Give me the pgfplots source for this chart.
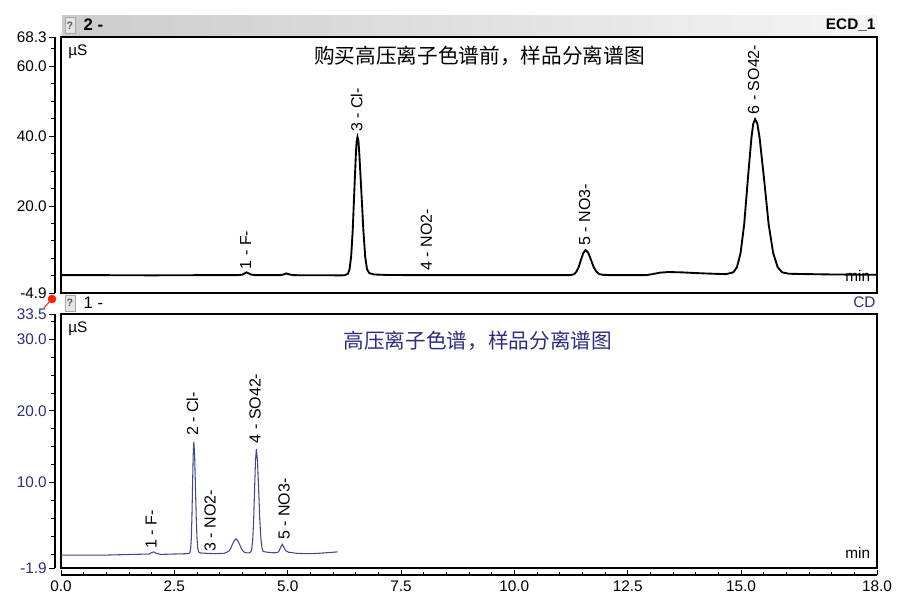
\documentclass[border=0pt]{standalone}
\usepackage{pgfplots}
\pgfplotsset{compat=1.18}
\usepackage{fontspec}
\setmainfont{Liberation Sans}
\newfontfamily\cjk{Noto Sans CJK SC}
\definecolor{navy}{RGB}{45,45,125}
\definecolor{trace2}{RGB}{70,70,140}

\pgfplotsset{
  tickaxis/.style={scale only axis, width=5pt, xmin=0, xmax=1,
    axis x line=none, axis y line*=left, tick align=outside,
    major tick length=4.5pt, minor tick length=3pt, xtick=\empty,
    tick style={black, line width=0.6pt}, axis line style={line width=0.8pt},
    yticklabel style={font=\fontsize{11.5}{13}\selectfont, inner sep=1.5pt}},
  boxaxis/.style={scale only axis, width=612pt, xmin=0, xmax=18,
    xtick=\empty, ytick=\empty, axis line style={line width=0.9pt},
    clip mode=individual}
}
\tikzset{peak/.style={rotate=90, anchor=west, font=\fontsize{12}{14}\selectfont, inner sep=1.5pt}}

\begin{document}
\begin{tikzpicture}
\useasboundingbox (0,0) rectangle (681.75pt,-455.25pt);

% headers
\begin{scope}[x=0.75pt,y=-0.75pt]
  \shade[left color=gray!40, right color=gray!8] (62,15) rectangle (877,37);
  \draw[gray!70, fill=gray!20] (65,17) rectangle (75,33);
  \node[font=\fontsize{8}{8}\selectfont\bfseries, text=gray!70!black] at (70,26) {?};
  \node[anchor=west, font=\bfseries\fontsize{12.5}{14}\selectfont] at (79,25) {2 -};
  \node[anchor=east, font=\bfseries\fontsize{11.5}{13}\selectfont, inner sep=1pt] at (877,25) {ECD\_1};
  \draw[gray!70, fill=gray!20] (65,295) rectangle (75,311);
  \node[font=\fontsize{8}{8}\selectfont\bfseries, text=gray!70!black] at (70,303) {?};
  \node[anchor=west, font=\fontsize{12.5}{14}\selectfont] at (79,303) {1 -};
  \node[anchor=east, font=\fontsize{11.5}{13}\selectfont, text=navy, inner sep=1pt] at (877,302) {CD};
  \draw[red!60!orange, line width=0.8pt] (44,308) -- (50,301);
  \fill[red!75!orange] (52,299) circle (3.2pt);
\end{scope}

% top panel ticks
\begin{axis}[tickaxis, at={(41.25pt,-219.75pt)}, anchor=south west, height=192pt,
  ymin=-4.9, ymax=68.3, ytick={-4.9,20,40,60,68.3},
  yticklabels={-4.9,20.0,40.0,60.0,68.3}, minor ytick={0,5,...,65}]
\end{axis}

% top panel data
\begin{axis}[boxaxis, at={(45.75pt,-219.75pt)}, anchor=south west, height=192pt,
  ymin=-4.9, ymax=68.3]
\addplot[black, line width=1.4pt] coordinates {
(0,0.2) (1,0.2) (2,0.15) (3,0.2) (3.9,0.2) (4.0,0.35) (4.05,0.7) (4.09,1.0)
(4.14,0.7) (4.2,0.35) (4.3,0.2) (4.85,0.2) (4.92,0.45) (4.97,0.7) (5.03,0.45)
(5.12,0.2) (6.2,0.15) (6.26,0.2) (6.33,0.6) (6.365,1.9) (6.40,5.5) (6.435,13.0)
(6.47,24.2) (6.505,35.0) (6.52,38.3) (6.54,39.7) (6.56,38.7) (6.58,35.0)
(6.625,24.2) (6.67,13.0) (6.71,5.5) (6.75,1.9) (6.80,0.8) (6.9,0.4) (7.2,0.25)
(8,0.2) (9,0.2) (10,0.2) (11.2,0.2) (11.27,0.3) (11.32,0.5) (11.37,1.2)
(11.42,2.5) (11.47,4.6) (11.52,6.5) (11.57,7.4) (11.63,6.6) (11.69,4.6)
(11.75,2.5) (11.81,1.2) (11.87,0.55) (11.95,0.3) (12.1,0.2) (12.9,0.2)
(13.05,0.5) (13.2,0.9) (13.4,1.1) (13.7,1.0) (14.0,0.8) (14.4,0.6) (14.67,0.5)
(14.83,1.0) (14.91,2.45) (14.99,6.5) (15.07,14.7) (15.15,27.5) (15.23,39.5)
(15.27,43.5) (15.31,44.8) (15.36,43.5) (15.41,39.5) (15.51,27.5) (15.61,14.7)
(15.71,6.5) (15.81,2.45) (15.91,1.0) (16.06,0.6) (16.5,0.5) (17,0.4) (18,0.3)
};
\node[anchor=north west, font=\fontsize{11.5}{13}\selectfont] at (rel axis cs:0,1) [xshift=2pt, yshift=-2pt] {µS};
\node[anchor=east, font=\fontsize{11.5}{13}\selectfont, inner sep=1pt] at (rel axis cs:1,0) [xshift=-4pt, yshift=12.5pt] {min};
\node[font=\cjk\fontsize{15.5}{18}\selectfont] at (rel axis cs:0.513,0.926) {购买高压离子色谱前，样品分离谱图};
\node[peak] at (axis cs:4.07,1.3) {1 - F-};
\node[peak] at (axis cs:6.52,40.5) {3 - Cl-};
\node[peak] at (axis cs:8.06,0.9) {4 - NO2-};
\node[peak] at (axis cs:11.55,8.0) {5 - NO3-};
\node[peak] at (axis cs:15.28,45.6) {6 - SO42-};
\end{axis}

% bottom panel ticks
\begin{axis}[tickaxis, at={(41.25pt,-426pt)}, anchor=south west, height=190.5pt,
  ymin=-1.9, ymax=33.5, ytick={-1.9,10,20,30,33.5},
  yticklabels={-1.9,10.0,20.0,30.0,33.5}, minor ytick={0,2.5,...,32.5},
  yticklabel style={text=navy}]
\end{axis}

% bottom panel data
\begin{axis}[boxaxis, at={(45.75pt,-426pt)}, anchor=south west, height=190.5pt,
  ymin=-1.9, ymax=33.5]
\addplot[trace2, line width=0.8pt] coordinates {
(0,-0.1) (1.0,-0.1) (1.6,0.0) (1.95,0.05) (2.0,0.25) (2.05,0.35) (2.1,0.15)
(2.2,0.0) (2.5,0.05) (2.8,0.1) (2.82,0.1) (2.846,0.27) (2.86,0.79) (2.874,2.2)
(2.888,5.1) (2.902,9.6) (2.916,13.8) (2.93,15.7) (2.948,13.8) (2.965,9.6)
(2.983,5.1) (3.0,2.2) (3.018,0.79) (3.035,0.35) (3.07,0.2) (3.2,0.15) (3.4,0.1)
(3.6,0.15) (3.7,0.42) (3.74,0.8) (3.78,1.37) (3.82,1.9) (3.86,2.15) (3.9,1.9)
(3.94,1.37) (3.98,0.8) (4.02,0.42) (4.06,0.24) (4.12,0.2) (4.15,0.2) (4.19,0.36)
(4.21,0.84) (4.23,2.16) (4.25,4.84) (4.27,9.05) (4.29,13.0) (4.31,14.7)
(4.335,13.0) (4.36,9.05) (4.385,4.84) (4.41,2.16) (4.435,0.84) (4.46,0.4)
(4.55,0.3) (4.7,0.22) (4.76,0.25) (4.8,0.36) (4.84,0.93) (4.88,1.4) (4.92,0.95)
(4.96,0.5) (5.02,0.3) (5.2,0.15) (5.4,0.1) (5.6,0.12) (5.8,0.2) (6.0,0.3) (6.1,0.35)
};
\node[anchor=north west, font=\fontsize{11.5}{13}\selectfont] at (rel axis cs:0,1) [xshift=2pt, yshift=-2pt] {µS};
\node[anchor=east, font=\fontsize{11.5}{13}\selectfont, inner sep=1pt] at (rel axis cs:1,0) [xshift=-4pt, yshift=11pt] {min};
\node[font=\cjk\fontsize{15.5}{18}\selectfont, text=navy] at (rel axis cs:0.511,0.894) {高压离子色谱，样品分离谱图};
\node[peak] at (axis cs:1.99,0.5) {1 - F-};
\node[peak] at (axis cs:2.9,16.2) {2 - Cl-};
\node[peak] at (axis cs:3.29,0.1) {3 - NO2-};
\node[peak] at (axis cs:4.28,15.2) {4 - SO42-};
\node[peak] at (axis cs:4.92,1.7) {5 - NO3-};
\end{axis}

% shared time axis
\begin{axis}[scale only axis, at={(45.75pt,-431.25pt)}, anchor=south west,
  width=612pt, height=1pt, xmin=0, xmax=18, ymin=0, ymax=1,
  axis x line*=bottom, axis y line=none, tick align=inside,
  xtick={0,2.5,5,7.5,10,12.5,15,18},
  xticklabels={0.0,2.5,5.0,7.5,10.0,12.5,15.0,18.0},
  minor xtick={0,0.5,...,18},
  major tick length=4pt, minor tick length=2.5pt,
  tick style={black, line width=0.6pt}, axis line style={line width=0.8pt},
  xticklabel style={font=\fontsize{11.5}{13}\selectfont, yshift=-1pt}]
\end{axis}
\end{tikzpicture}
\end{document}
